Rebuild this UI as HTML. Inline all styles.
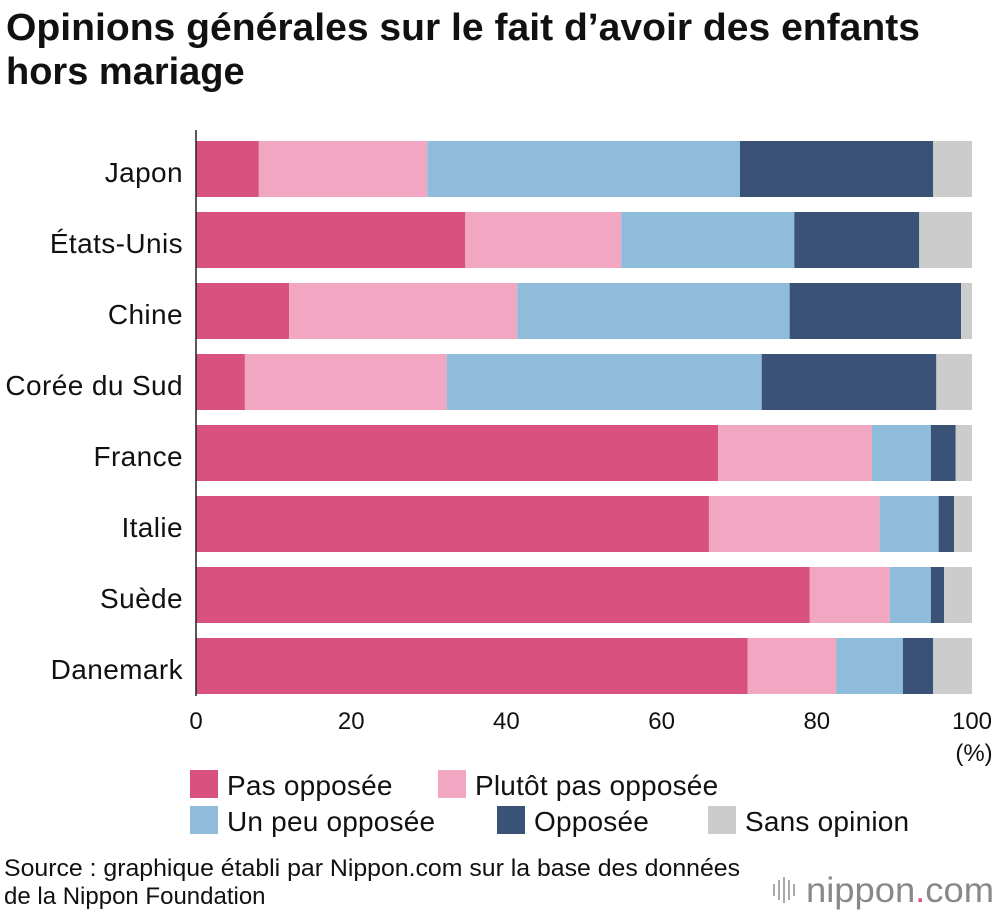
<!DOCTYPE html>
<html><head><meta charset="utf-8"><style>
body{margin:0;background:#fff;font-family:"Liberation Sans",sans-serif}
svg{display:block}
</style></head><body>
<svg id="chart" width="1000" height="916" viewBox="0 0 1000 916">
<text x="6" y="40" font-size="38" font-weight="bold" fill="#111" textLength="914" lengthAdjust="spacingAndGlyphs">Opinions générales sur le fait d’avoir des enfants</text>
<text x="6" y="84" font-size="38" font-weight="bold" fill="#111">hors mariage</text>
<g id="bars"></g>
<g id="cats"></g>
<g id="ticks"></g>
<line x1="196" y1="130" x2="196" y2="696" stroke="#222" stroke-width="1.5"/>
<text x="974" y="761" font-size="24" text-anchor="middle" fill="#111">(%)</text>
<g id="legend"></g>
<text x="4" y="876" font-size="24" fill="#111" textLength="736" lengthAdjust="spacingAndGlyphs">Source : graphique établi par Nippon.com sur la base des données</text>
<text x="4" y="904" font-size="24" fill="#111">de la Nippon Foundation</text>
<g>
<rect x="773" y="884" width="2" height="12" fill="#aaa"/><rect x="778" y="880" width="2" height="20" fill="#aaa"/><rect x="783" y="877" width="2" height="26" fill="#aaa"/><rect x="788" y="880" width="2" height="20" fill="#aaa"/><rect x="793" y="884" width="2" height="12" fill="#aaa"/>
<text x="806" y="902" font-size="35" fill="#888" textLength="188" lengthAdjust="spacingAndGlyphs">nippon<tspan fill="#d9527f">.</tspan>com</text>
</g>
</svg>
<script>
const categories=["Japon","États-Unis","Chine","Corée du Sud","France","Italie","Suède","Danemark"];
const seriesNames=["Pas opposée","Plutôt pas opposée","Un peu opposée","Opposée","Sans opinion"];
const pasOpposee=[8.1,34.7,12.0,6.3,67.3,66.1,79.1,71.1];
const plutotPas=[21.7,20.1,29.4,26.0,19.8,22.0,10.3,11.4];
const unPeu=[40.3,22.3,35.1,40.6,7.6,7.6,5.3,8.6];
const opposee=[24.9,16.1,22.1,22.5,3.2,2.0,1.7,3.9];
const sansOpinion=[5.0,6.8,1.4,4.6,2.1,2.3,3.6,5.0];
const tickLabels=[0,20,40,60,80,100];
const series=[pasOpposee,plutotPas,unPeu,opposee,sansOpinion];
const colors=["#d9527f","#f1a7c1","#8fbcdb","#3a5275","#cccccc"];
const NS="http://www.w3.org/2000/svg";
const x=v=>196+v*7.76;
const yTop=i=>141+i*71;
const bh=56;
function mk(tag,attrs,parent){const e=document.createElementNS(NS,tag);for(const k in attrs)e.setAttribute(k,attrs[k]);parent.appendChild(e);return e;}
const gb=document.getElementById('bars'),gc=document.getElementById('cats'),gt=document.getElementById('ticks'),gl=document.getElementById('legend');
categories.forEach((c,i)=>{
  let acc=0;
  series.forEach((s,j)=>{
    const r=mk('rect',{x:x(acc),y:yTop(i),width:x(acc+s[i])-x(acc),height:bh,fill:colors[j]},gb);
    
    
    acc+=s[i];
  });
  const t=mk('text',{x:183,y:yTop(i)+bh/2+13,'font-size':28,'letter-spacing':0.4,'text-anchor':'end',fill:'#111'},gc);
  t.textContent=c;
  
  
});
tickLabels.forEach(v=>{
  const t=mk('text',{x:x(v),y:729,'font-size':24,'text-anchor':'middle',fill:'#111'},gt);
  t.textContent=v;
  
  
});
const legPos=[[190,770],[438,770],[190,806],[497,806],[708,806]];
seriesNames.forEach((n,j)=>{
  const g=mk('g',{},gl);
  
  
  mk('rect',{x:legPos[j][0],y:legPos[j][1],width:28,height:28,fill:colors[j]},g);
  const t=mk('text',{x:legPos[j][0]+37,y:legPos[j][1]+25,'font-size':28,'letter-spacing':0.2,fill:'#111'},g);
  t.textContent=n;
});
</script>
</body></html>
